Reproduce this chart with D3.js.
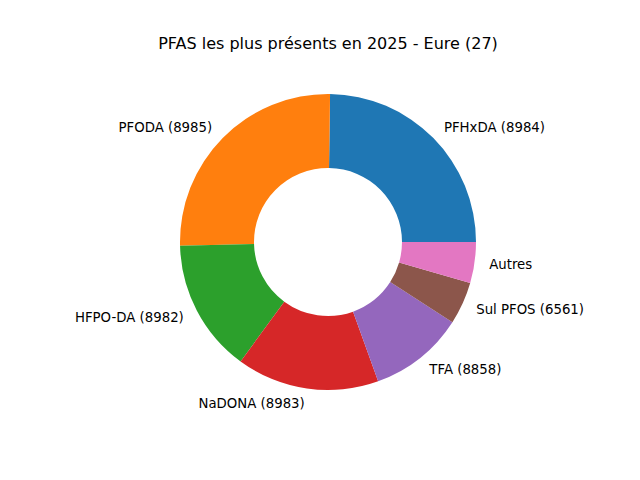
<!DOCTYPE html>
<html><head><meta charset="utf-8">
<script src="https://cdn.jsdelivr.net/npm/d3@7"></script>
<style>body{margin:0;background:#fff}</style></head>
<body><svg id="c" width="640" height="480"></svg>
<script>
const labels = ["PFHxDA (8984)","PFODA (8985)","HFPO-DA (8982)","NaDONA (8983)","TFA (8858)","Sul PFOS (6561)","Autres"];
const values = [89.2,92.3,52.3,56,37.4,16.7,16.1];
const colors = ["#1f77b4","#ff7f0e","#2ca02c","#d62728","#9467bd","#8c564b","#e377c2"];
const svg = d3.select("#c");
const cx=328, cy=242, r=148;
svg.append("text").attr("x",328).attr("y",49).attr("text-anchor","middle")
  .attr("font-family","DejaVu Sans").attr("font-size",16).text("PFAS les plus présents en 2025 - Eure (27)");
const data = labels.map((l,i)=>({l,v:values[i],c:colors[i]}));
// matplotlib: counterclockwise from 0° (east); d3: clockwise from north
const pie = d3.pie().value(d=>d.v).sort(null).startAngle(Math.PI/2).endAngle(Math.PI/2 - 2*Math.PI);
const arcs = pie(data);
const arc = d3.arc().innerRadius(r*0.5).outerRadius(r);
const g = svg.append("g").attr("transform",`translate(${cx},${cy})`);
g.selectAll("path").data(arcs).join("path").attr("d",arc).attr("fill",d=>d.data.c);
g.selectAll("text").data(arcs).join("text")
  .each(function(d){
    const m=(d.startAngle+d.endAngle)/2;
    const x=1.1*r*Math.sin(m), y=-1.1*r*Math.cos(m);
    d3.select(this).attr("x",x).attr("y",y).attr("text-anchor",x>0?"start":"end")
      .attr("dominant-baseline","central");
  })
  .attr("font-family","DejaVu Sans").attr("font-size",13.3).text(d=>d.data.l);
</script></body></html>
